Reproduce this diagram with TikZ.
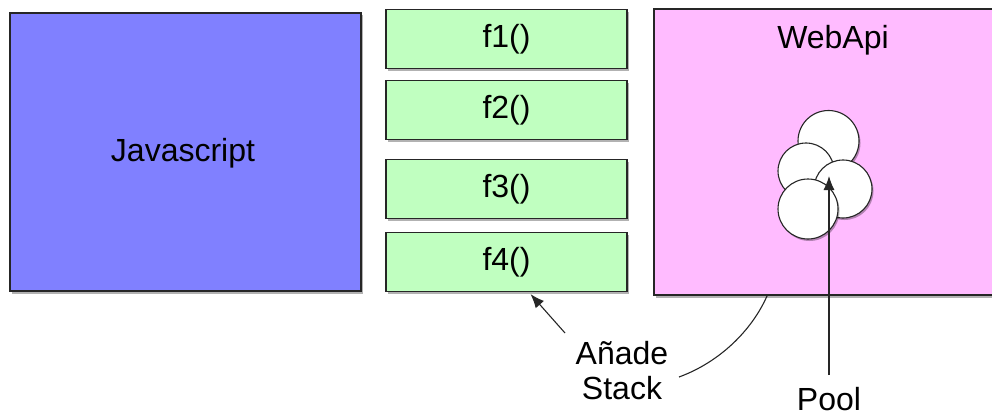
\documentclass[tikz,border=0pt]{standalone}
\usepackage{fontspec}
\setmainfont{Liberation Sans}
\usetikzlibrary{shadows,arrows.meta}
\definecolor{jsblue}{RGB}{128,128,255}
\definecolor{stackgreen}{RGB}{192,255,192}
\definecolor{apipink}{RGB}{255,187,255}
\tikzset{
  box/.style={draw=black!85, line width=1.1pt, rectangle, inner sep=0pt,
    drop shadow={shadow xshift=1.5pt, shadow yshift=-2.5pt, fill=black, opacity=0.3}},
  jsbox/.style={box, fill=jsblue},
  stackbox/.style={box, fill=stackgreen, minimum width=241pt, minimum height=59pt},
  apibox/.style={box, fill=apipink},
  ball/.style={circle, draw=black!85, line width=1.1pt, fill=white, inner sep=0pt,
    drop shadow={shadow xshift=1.5pt, shadow yshift=-2pt, fill=black, opacity=0.3}},
  txt/.style={font=\fontsize{32}{37}\selectfont, inner sep=0pt},
  conn/.style={line width=1.1pt, draw=black!85},
  arr/.style={conn, -{Latex[length=14pt,width=11pt]}},
}
\begin{document}
\begin{tikzpicture}[x=1pt,y=-1pt]
\useasboundingbox (0,0) rectangle (992,417);
\clip (0,0) rectangle (992,417);
% boxes
\node[jsbox, minimum width=351pt, minimum height=278pt] (js) at (185.5,152) {};
\node[txt] (jstext) at (183,153) {Javascript};
\node[stackbox] (f1) at (506.5,39) {};
\node[stackbox] (f2) at (506.5,110) {};
\node[stackbox] (f3) at (506.5,189) {};
\node[stackbox] (f4) at (506.5,262) {};
\node[txt] (f1t) at (506.5,39) {f1()};
\node[txt] (f2t) at (506.5,110) {f2()};
\node[txt] (f3t) at (506.5,189) {f3()};
\node[txt] (f4t) at (506.5,262) {f4()};
\node[apibox, minimum width=360pt, minimum height=286pt] (api) at (834,152) {};
\node[txt] (apit) at (833,40) {WebApi};
% pool circles
\node[ball, minimum size=61pt] (c1) at (828.5,141) {};
\node[ball, minimum size=56pt] (c2) at (806,171) {};
\node[ball, minimum size=58pt] (c3) at (843,189) {};
\node[ball, minimum size=60pt] (c4) at (808,209) {};
% labels
\node[txt, align=center] (anade) at (622,371) {Añade\\[-2pt]Stack};
\node[txt] (pool) at (829,399) {Pool};
% connectors
\coordinate (a1) at (565,333);
\draw[arr] (a1) -- ([xshift=24pt,yshift=-2pt]f4.south);
\coordinate (a2) at (679,377);
\coordinate (a3) at (767,296);
\draw[conn] (a2) .. controls (720,362) and (752,330) .. (a3);
\coordinate (p1) at (829,375);
\coordinate (p2) at (829,176);
\draw[arr] (p1) -- (p2);
\end{tikzpicture}
\end{document}
